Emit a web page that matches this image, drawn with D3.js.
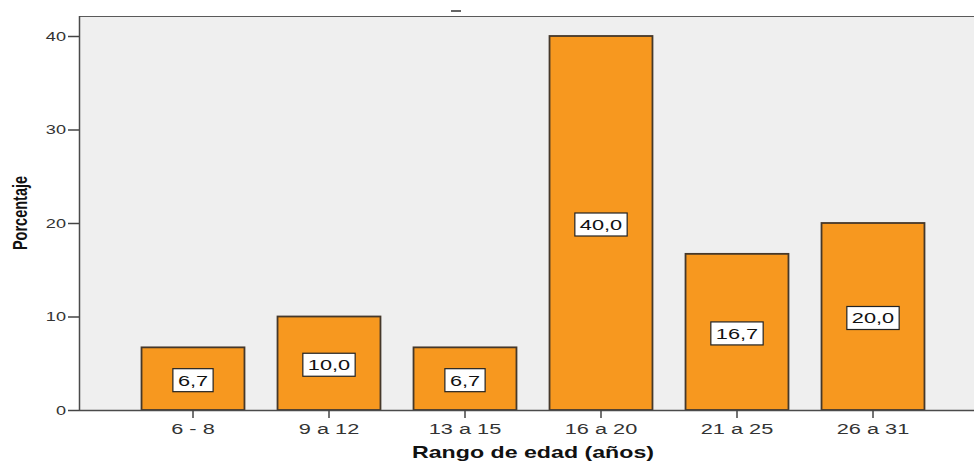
<!DOCTYPE html>
<html>
<head>
<meta charset="utf-8">
<script src="https://cdn.jsdelivr.net/npm/d3@7"></script>
<style>
  html, body { margin: 0; padding: 0; background: #fff; }
  svg { display: block; }
</style>
</head>
<body>
<svg id="chart" width="974" height="463"></svg>
<script>
// Age ranges and the percentage of respondents in each
const categories = ["6 - 8", "9 a 12", "13 a 15", "16 a 20", "21 a 25", "26 a 31"];
const values = [6.7, 10.0, 6.7, 40.0, 16.7, 20.0];
const yTicks = [0, 10, 20, 30, 40];

const plot = { left: 79, top: 16, right: 975, bottom: 410 };
const SX = 1.45;               // wide lettering used across the chart
const FONT = "Liberation Sans, Arial, sans-serif";

const svg = d3.select("#chart");

const x = d3.scaleBand()
  .domain(categories)
  .range([125, 941])
  .paddingInner(0.243)
  .paddingOuter(0.1215);

const y = d3.scaleLinear()
  .domain([0, 40])
  .range([plot.bottom, 36]);

// plot background
svg.append("rect")
  .attr("x", plot.left).attr("y", plot.top)
  .attr("width", plot.right - plot.left).attr("height", plot.bottom - plot.top)
  .attr("fill", "#efefef");

// frame: top edge
svg.append("line")
  .attr("x1", plot.left).attr("x2", plot.right)
  .attr("y1", plot.top + 0.5).attr("y2", plot.top + 0.5)
  .attr("stroke", "#5a5a5a").attr("stroke-width", 1.2);

// cut-off title remnant above the frame
svg.append("line")
  .attr("x1", 451).attr("x2", 461).attr("y1", 11).attr("y2", 11)
  .attr("stroke", "#333").attr("stroke-width", 1.5);

// bars
svg.append("g").selectAll("rect")
  .data(values)
  .join("rect")
  .attr("x", (d, i) => x(categories[i]))
  .attr("y", d => y(d))
  .attr("width", x.bandwidth())
  .attr("height", d => y(0) - y(d))
  .attr("fill", "#f7981f")
  .attr("stroke", "#45382a")
  .attr("stroke-width", 1.8);

// value labels in white boxes at mid-height of each bar
const fmt = v => d3.format(".1f")(v).replace(".", ",");
const lab = svg.append("g").selectAll("g")
  .data(values)
  .join("g")
  .attr("transform", (d, i) => `translate(${x(categories[i]) + x.bandwidth() / 2},${y(d / 2) + 1.5})`);

lab.append("text")
  .attr("text-anchor", "middle")
  .attr("dy", "0.36em")
  .attr("transform", `scale(${SX},1)`)
  .attr("font-family", FONT)
  .attr("font-size", 15)
  .attr("fill", "#111")
  .text(d => fmt(d))
  .each(function () {
    const b = this.getBBox();
    const w = b.width * SX;
    d3.select(this.parentNode).insert("rect", "text")
      .attr("x", -w / 2 - 5).attr("y", -11.5)
      .attr("width", w + 10).attr("height", 23)
      .attr("fill", "#fff")
      .attr("stroke", "#222").attr("stroke-width", 1.2);
  });

// y axis
const yAxis = svg.append("g")
  .attr("transform", `translate(${plot.left},0)`)
  .call(d3.axisLeft(y).tickValues(yTicks).tickSize(11).tickSizeOuter(0));
yAxis.select(".domain").attr("d", `M0.5,${plot.top}V${plot.bottom}`)
  .attr("stroke", "#4a4a4a").attr("stroke-width", 1.5);
yAxis.selectAll(".tick line").attr("stroke", "#444").attr("stroke-width", 1.5);
yAxis.selectAll(".tick text")
  .attr("x", -13 / SX)
  .attr("transform", `scale(${SX},1)`)
  .attr("font-family", FONT)
  .attr("font-size", 12.5)
  .attr("fill", "#333");

// x axis
const xAxis = svg.append("g")
  .attr("transform", `translate(0,${plot.bottom})`)
  .call(d3.axisBottom(x).tickSize(8).tickPadding(5).tickSizeOuter(0));
xAxis.select(".domain").attr("d", `M${plot.left},0.5H${plot.right}`)
  .attr("stroke", "#4a4a4a").attr("stroke-width", 1.5);
xAxis.selectAll(".tick line").attr("stroke", "#444").attr("stroke-width", 1.5);
xAxis.selectAll(".tick text")
  .attr("transform", `scale(${SX},1)`)
  .attr("font-family", FONT)
  .attr("font-size", 15)
  .attr("fill", "#333");

// axis titles
svg.append("text")
  .attr("transform", `translate(27,213) rotate(-90) scale(1,${SX})`)
  .attr("text-anchor", "middle")
  .attr("font-family", FONT)
  .attr("font-weight", "bold")
  .attr("font-size", 14.5)
  .attr("fill", "#111")
  .text("Porcentaje");

svg.append("text")
  .attr("transform", `translate(533,458) scale(${SX},1)`)
  .attr("text-anchor", "middle")
  .attr("font-family", FONT)
  .attr("font-weight", "bold")
  .attr("font-size", 16)
  .attr("fill", "#111")
  .text("Rango de edad (años)");
</script>
</body>
</html>
